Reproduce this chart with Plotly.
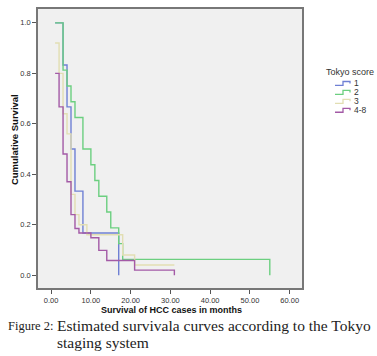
import plotly.graph_objects as go

# ---- data ----
groups = ["1", "2", "3", "4-8"]
colors = ["#6f80d4", "#6ccf80", "#e2deb2", "#a35aa6"]

t_1 = [1, 3, 4, 5, 6, 8, 17]
s_1 = [1.0, 0.833, 0.667, 0.5, 0.333, 0.167, 0.0]

t_2 = [1, 3, 4, 5, 6, 8, 10, 11, 12, 14, 15, 17, 18, 55]
s_2 = [1.0, 0.8125, 0.75, 0.6875, 0.625, 0.5, 0.4375, 0.375, 0.3125, 0.25,
       0.1875, 0.125, 0.0625, 0.0]

t_3 = [1, 2, 3, 4, 5, 6, 7, 9, 18, 21, 31]
s_3 = [0.92, 0.80, 0.64, 0.56, 0.32, 0.24, 0.20, 0.16, 0.08, 0.04, 0.04]

t_4 = [1, 2, 3, 4, 5, 6, 7, 10, 12, 14, 21, 31]
s_4 = [0.80, 0.667, 0.48, 0.37, 0.24, 0.185, 0.167, 0.148, 0.098, 0.058, 0.02, 0.0]

x_ticks = [0, 10, 20, 30, 40, 50, 60]
y_ticks = [0.0, 0.2, 0.4, 0.6, 0.8, 1.0]

times = [t_1, t_2, t_3, t_4]
survs = [s_1, s_2, s_3, s_4]

# ---- layout geometry (pixels) ----
W, H = 377, 356
L, R, T, B = 38, 75, 7, 68
PW, PH = W - L - R, H - T - B


def px(x):
    return (x - L) / PW


def py(y):
    return (H - B - y) / PH


fig = go.Figure()
for name, col, tt, ss in zip(groups, colors, times, survs):
    fig.add_trace(go.Scatter(x=tt, y=ss, mode="lines", name=name,
                             line=dict(color=col, width=1.4, shape="hv"),
                             showlegend=False, hoverinfo="skip"))

axis_font = dict(family="Liberation Sans, Arial", size=7.5, color="#333333")
fig.update_xaxes(range=[-3.3, 63.1], tickvals=x_ticks,
                 ticktext=[f"{v:.2f}" for v in x_ticks],
                 ticks="outside", ticklen=4, tickcolor="#555555",
                 showgrid=False, zeroline=False, showline=True, mirror=True,
                 linecolor="#777777", linewidth=1.5, tickfont=axis_font)
fig.update_yaxes(range=[-0.051, 1.055], tickvals=y_ticks,
                 ticktext=[f"{v:.1f}" for v in y_ticks],
                 ticks="outside", ticklen=4, tickcolor="#555555",
                 showgrid=False, zeroline=False, showline=True, mirror=True,
                 linecolor="#777777", linewidth=1.5, tickfont=axis_font)


def ann(text, x, y, size, family="Liberation Sans, Arial", color="#333333",
        xanchor="center", angle=0):
    return dict(text=text, x=px(x), y=py(y), xref="paper", yref="paper",
                xanchor=xanchor, yanchor="middle", textangle=angle,
                showarrow=False, font=dict(family=family, size=size, color=color))


serif = "Liberation Serif, Times New Roman"
annotations = [
    ann("<b>Cumulative Survival</b>", 14, 139, 9.5, color="#111111", angle=-90),
    ann("<b>Survival of HCC cases in months</b>", 171, 310, 9, color="#111111"),
    ann("Figure 2:", 6, 326, 12.5, family=serif, color="#222222", xanchor="left"),
    ann("Estimated survivala curves according to the Tokyo", 55, 326, 15.5,
        family=serif, color="#222222", xanchor="left"),
    ann("staging system", 55, 343, 15.5, family=serif, color="#222222", xanchor="left"),
    ann("Tokyo score", 324, 70, 9, xanchor="left"),
]

shapes = []
leg_y = [82, 91, 100, 109]
for name, col, yy in zip(groups, colors, leg_y):
    x0, xm, x1 = px(335), px(343), px(350)
    ylo, yhi = py(yy + 2), py(yy - 2)
    shapes.append(dict(type="path", xref="paper", yref="paper",
                       path=f"M {x0},{ylo} L {xm},{ylo} L {xm},{yhi} L {x1},{yhi} L {x1},{py(yy)}",
                       line=dict(color=col, width=1.3)))
    annotations.append(ann(name, 352, yy, 8.5, xanchor="left"))

fig.update_layout(width=W, height=H, margin=dict(l=L, r=R, t=T, b=B),
                  paper_bgcolor="white", plot_bgcolor="#f0f0f0",
                  annotations=annotations, shapes=shapes, showlegend=False)

fig.write_html("out.html", config={"displayModeBar": False},
               post_script="document.body.style.margin='0';document.body.style.padding='0';")
